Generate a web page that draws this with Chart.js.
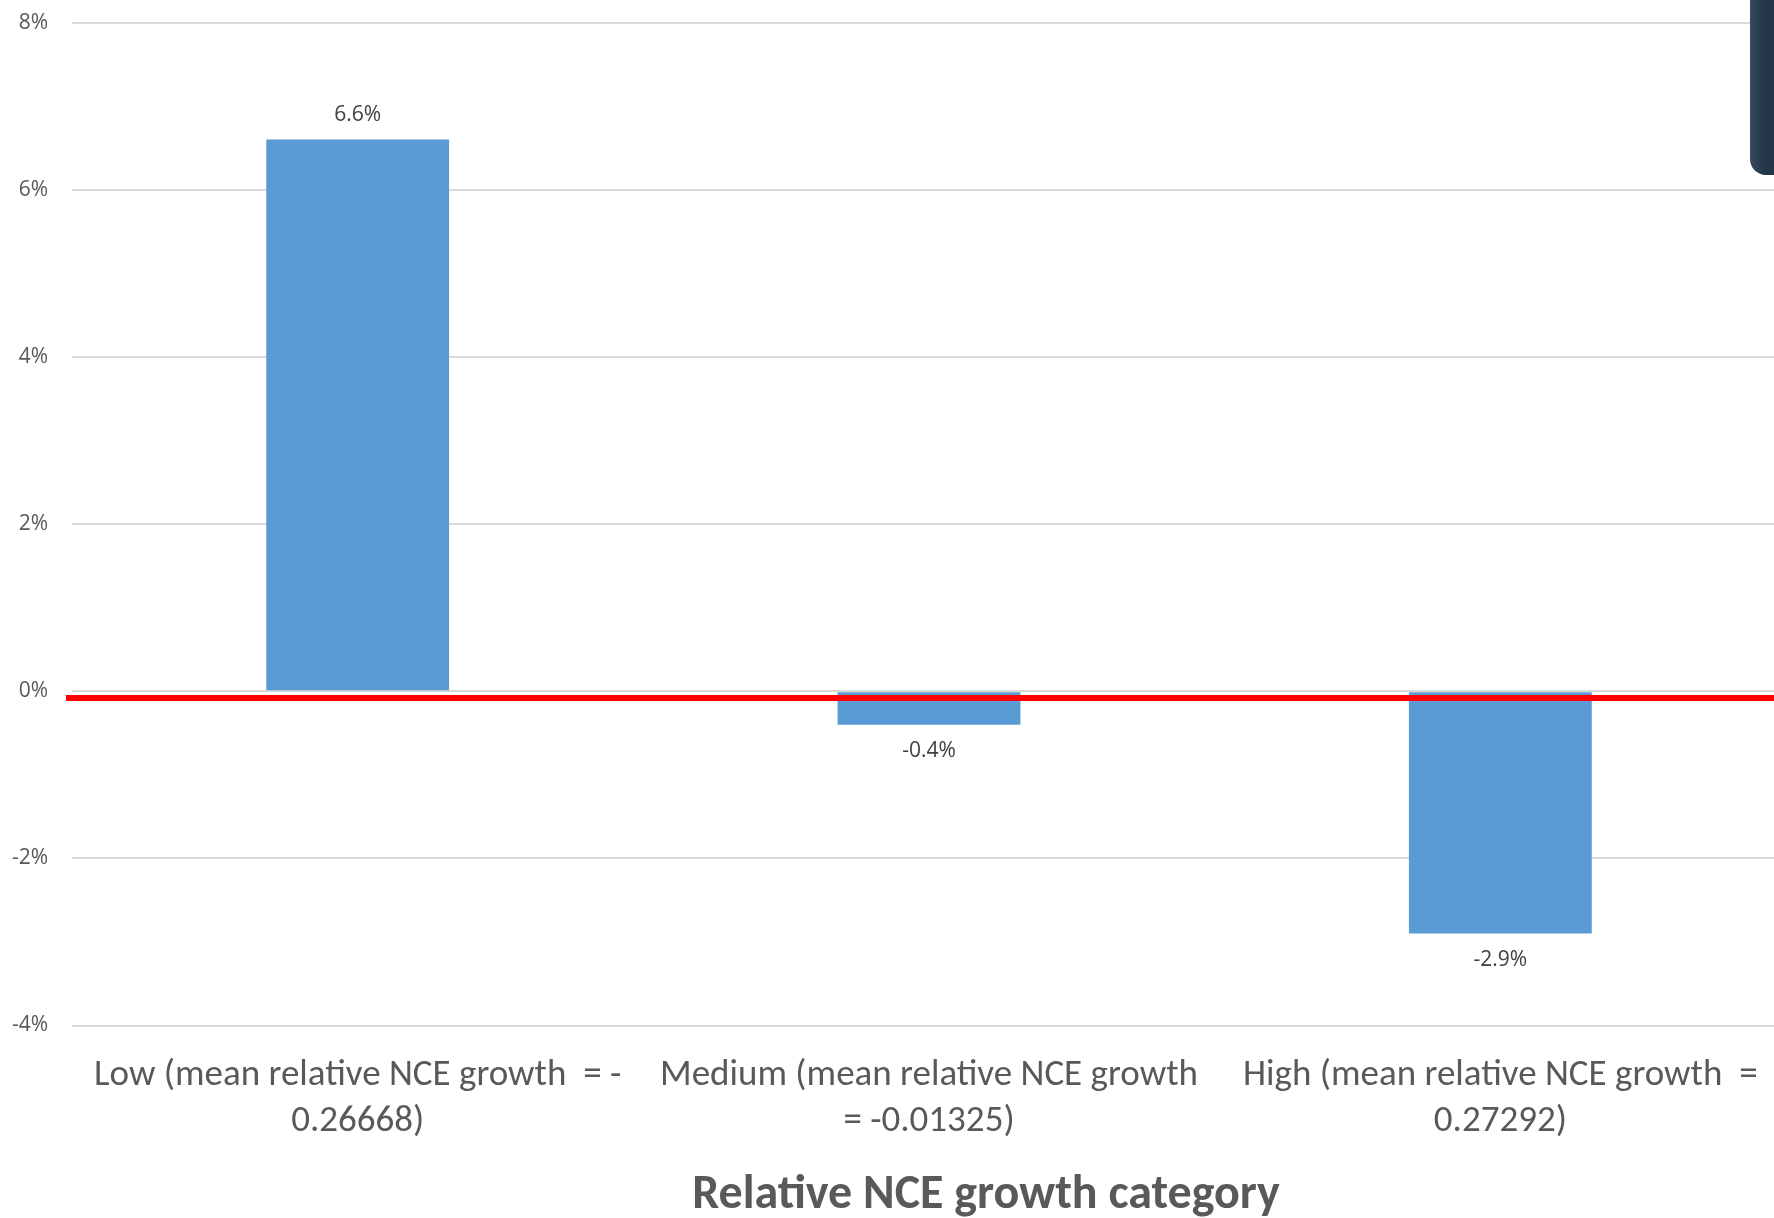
<!DOCTYPE html>
<html>
<head>
<meta charset="utf-8">
<script src="https://cdn.jsdelivr.net/npm/chart.js@4.4.1/dist/chart.umd.min.js"></script>
<style>
  html, body { margin: 0; padding: 0; background: #ffffff; overflow: hidden; }
  #wrap { position: relative; width: 1774px; height: 1218px; overflow: hidden; }
  #box { position: absolute; left: 0; top: -14px; width: 1790px; height: 1232px; }
  #axisTitle {
    position: absolute; left: 986px; top: 1162px; transform: translateX(-50%);
    font-family: Carlito, "Liberation Sans Narrow", "Open Sans", sans-serif;
    font-weight: bold; font-size: 48px; color: #595959; white-space: nowrap;
  }
  #sideTab {
    position: absolute; left: 1750px; top: -10px; width: 40px; height: 185px;
    background: linear-gradient(90deg, #3a4b60 0%, #26384c 30%, #1f3044 100%);
    border-bottom-left-radius: 16px;
  }
</style>
</head>
<body>
<div id="wrap">
  <div id="box"><canvas id="chart"></canvas></div>
  <div id="axisTitle">Relative NCE growth category</div>
  <div id="sideTab"></div>
</div>
<script>
  const categories = [
    ["Low (mean relative NCE growth  = -", "0.26668)"],
    ["Medium (mean relative NCE growth", "= -0.01325)"],
    ["High (mean relative NCE growth  =", "0.27292)"]
  ];
  const values = [6.6, -0.4, -2.9];
  const yTicks = { min: -4, max: 8, step: 2 };
  const zeroMarker = -0.08;

  const labelFont = 'Carlito, "Liberation Sans Narrow", "Open Sans", sans-serif';

  // red marker line across the plot, just under zero
  const markerLine = {
    id: "markerLine",
    afterDatasetsDraw(chart) {
      const y = chart.scales.y.getPixelForValue(zeroMarker);
      const a = chart.chartArea;
      const ctx = chart.ctx;
      ctx.save();
      ctx.strokeStyle = "#ff0000";
      ctx.lineWidth = 6;
      ctx.beginPath();
      ctx.moveTo(a.left - 6, y);
      ctx.lineTo(a.right, y);
      ctx.stroke();
      ctx.restore();
    }
  };

  // value labels above/below each bar
  const barLabels = {
    id: "barLabels",
    afterDatasetsDraw(chart) {
      const ctx = chart.ctx;
      const meta = chart.getDatasetMeta(0);
      ctx.save();
      ctx.font = '21px "Open Sans", sans-serif';
      ctx.fillStyle = "#404040";
      ctx.textAlign = "center";
      ctx.textBaseline = "middle";
      meta.data.forEach((bar, i) => {
        const v = values[i];
        const y = v >= 0 ? bar.y - 25 : bar.y + 26;
        ctx.fillText(v.toFixed(1) + "%", bar.x, y);
      });
      ctx.restore();
    }
  };

  new Chart(document.getElementById("chart"), {
    type: "bar",
    data: {
      labels: categories,
      datasets: [{
        data: values,
        backgroundColor: "#5b9bd5",
        borderWidth: 0,
        categoryPercentage: 1,
        barPercentage: 0.32
      }]
    },
    options: {
      responsive: true,
      maintainAspectRatio: false,
      animation: false,
      layout: { padding: { left: 0, right: 4, top: 0, bottom: 46 } },
      plugins: {
        legend: { display: false },
        tooltip: { enabled: false }
      },
      scales: {
        x: {
          grid: { display: false, drawTicks: false },
          border: { display: false },
          ticks: {
            color: "#595959",
            font: { family: labelFont, size: 37, lineHeight: 1.25 },
            padding: 27,
            maxRotation: 0,
            minRotation: 0,
            autoSkip: false
          }
        },
        y: {
          min: yTicks.min,
          max: yTicks.max,
          afterFit: (scale) => { scale.width = 72; },
          grid: { color: "#d9d9d9", lineWidth: 2, drawTicks: false },
          border: { display: false },
          ticks: {
            stepSize: yTicks.step,
            color: "#595959",
            font: { family: '"Open Sans", sans-serif', size: 21 },
            padding: 24,
            callback: (v) => v + "%"
          }
        }
      }
    },
    plugins: [markerLine, barLabels]
  });
</script>
</body>
</html>
